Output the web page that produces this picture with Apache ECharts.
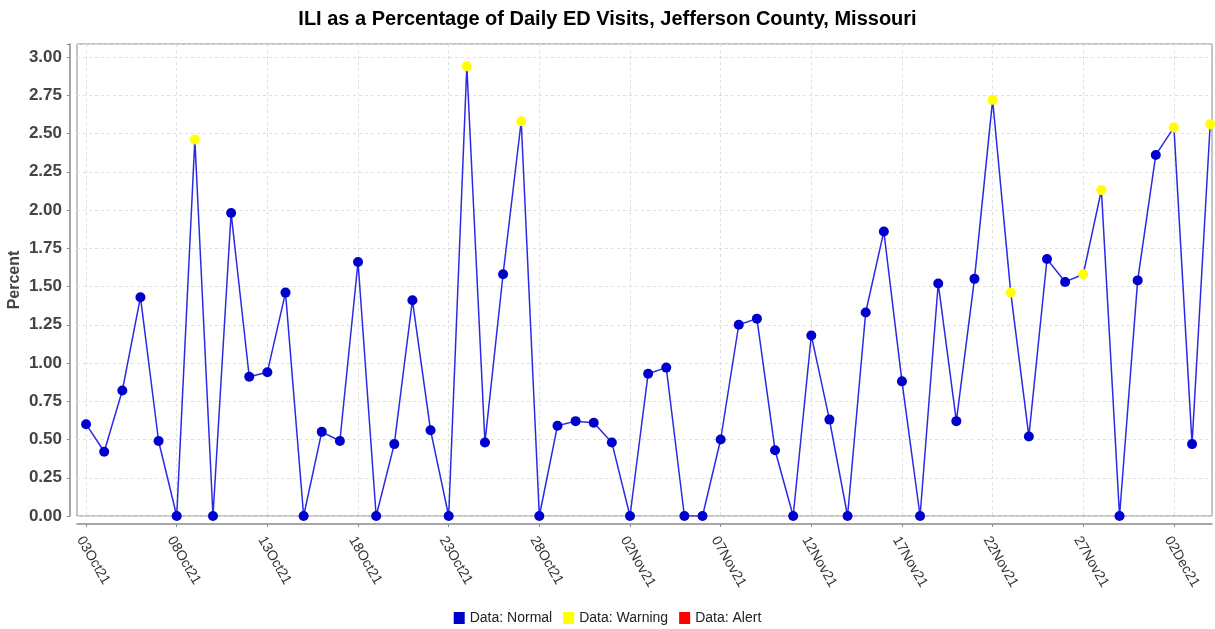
<!DOCTYPE html>
<html>
<head>
<meta charset="utf-8">
<title>ILI as a Percentage of Daily ED Visits</title>
<script src="https://cdn.jsdelivr.net/npm/echarts@6/dist/echarts.min.js"></script>
<style>
  html, body { margin: 0; padding: 0; background: #fff; }
  #chart { width: 1215px; height: 629px; }
</style>
</head>
<body>
<div id="chart"></div>
<script>
// one value per day, 03Oct21 .. 04Dec21
const dates = [
  '03Oct21', '04Oct21', '05Oct21', '06Oct21', '07Oct21', '08Oct21', '09Oct21',
  '10Oct21', '11Oct21', '12Oct21', '13Oct21', '14Oct21', '15Oct21', '16Oct21',
  '17Oct21', '18Oct21', '19Oct21', '20Oct21', '21Oct21', '22Oct21', '23Oct21',
  '24Oct21', '25Oct21', '26Oct21', '27Oct21', '28Oct21', '29Oct21', '30Oct21',
  '31Oct21', '01Nov21', '02Nov21', '03Nov21', '04Nov21', '05Nov21', '06Nov21',
  '07Nov21', '08Nov21', '09Nov21', '10Nov21', '11Nov21', '12Nov21', '13Nov21',
  '14Nov21', '15Nov21', '16Nov21', '17Nov21', '18Nov21', '19Nov21', '20Nov21',
  '21Nov21', '22Nov21', '23Nov21', '24Nov21', '25Nov21', '26Nov21', '27Nov21',
  '28Nov21', '29Nov21', '30Nov21', '01Dec21', '02Dec21', '03Dec21', '04Dec21'
]
const percent = [
  0.60, 0.42, 0.82, 1.43, 0.49, 0.00, 2.46,
  0.00, 1.98, 0.91, 0.94, 1.46, 0.00, 0.55,
  0.49, 1.66, 0.00, 0.47, 1.41, 0.56, 0.00,
  2.94, 0.48, 1.58, 2.58, 0.00, 0.59, 0.62,
  0.61, 0.48, 0.00, 0.93, 0.97, 0.00, 0.00,
  0.50, 1.25, 1.29, 0.43, 0.00, 1.18, 0.63,
  0.00, 1.33, 1.86, 0.88, 0.00, 1.52, 0.62,
  1.55, 2.72, 1.46, 0.52, 1.68, 1.53, 1.58,
  2.13, 0.00, 1.54, 2.36, 2.54, 0.47, 2.56
]
// N = normal, W = warning, A = alert
const status = [
  'N', 'N', 'N', 'N', 'N', 'N', 'W',
  'N', 'N', 'N', 'N', 'N', 'N', 'N',
  'N', 'N', 'N', 'N', 'N', 'N', 'N',
  'W', 'N', 'N', 'W', 'N', 'N', 'N',
  'N', 'N', 'N', 'N', 'N', 'N', 'N',
  'N', 'N', 'N', 'N', 'N', 'N', 'N',
  'N', 'N', 'N', 'N', 'N', 'N', 'N',
  'N', 'W', 'W', 'N', 'N', 'N', 'W',
  'W', 'N', 'N', 'N', 'W', 'N', 'W'
]
// x tick every 5 days
const xTicks = [0, 5, 10, 15, 20, 25, 30, 35, 40, 45, 50, 55, 60]

const lineData = percent.map((v, i) => [i, v])
function pointsFor(code) {
  const out = []
  percent.forEach((v, i) => {
    if (status[i] === code) out.push([i, v])
  })
  return out
}

const font = 'Liberation Sans, Arial, sans-serif'
const gray = '#8a8a8a'
const gridLine = { show: true, lineStyle: { color: '#e0e0e0', type: [3, 3] } }

const chart = echarts.init(document.getElementById('chart'), null, { renderer: 'canvas' })
chart.setOption({
  animation: false,
  backgroundColor: '#fff',
  title: {
    text: 'ILI as a Percentage of Daily ED Visits, Jefferson County, Missouri',
    left: 'center',
    top: 4,
    textStyle: { fontFamily: font, fontSize: 20, fontWeight: 'bold', color: '#000' }
  },
  legend: {
    top: 606,
    left: 'center',
    data: ['Data: Normal', 'Data: Warning', 'Data: Alert'],
    icon: 'rect',
    itemWidth: 11,
    itemHeight: 12,
    itemGap: 11,
    textStyle: { fontFamily: font, fontSize: 14, color: '#222' }
  },
  grid: {
    left: 77,
    right: 3,
    top: 44,
    bottom: 113,
    outerBoundsMode: 'none',
    show: true,
    borderColor: gray,
    borderWidth: 1
  },
  xAxis: {
    type: 'value',
    min: -0.5,
    max: 62.1,
    offset: 8,
    axisLine: { show: true, onZero: false, lineStyle: { color: gray, width: 1.5 } },
    axisTick: { show: true, length: 3, customValues: xTicks, lineStyle: { color: gray } },
    axisLabel: {
      customValues: xTicks,
      rotate: -60,
      verticalAlign: 'top',
      margin: 10,
      fontFamily: font,
      fontSize: 14,
      color: '#333',
      formatter: v => dates[Math.round(v)] || ''
    },
    splitLine: gridLine
  },
  yAxis: {
    type: 'value',
    min: 0,
    max: 3.085,
    interval: 0.25,
    offset: 7,
    name: 'Percent',
    nameLocation: 'middle',
    nameGap: 47,
    nameMoveOverlap: false,
    nameTextStyle: { fontFamily: font, fontSize: 16, fontWeight: 'bold', color: '#444' },
    axisLine: { show: true, onZero: false, lineStyle: { color: gray, width: 1.5 } },
    axisTick: { show: true, length: 3, lineStyle: { color: gray } },
    axisLabel: {
      fontFamily: font,
      fontSize: 17,
      fontWeight: 'bold',
      color: '#444',
      margin: 8,
      formatter: v => (v > 3.01 ? '' : v.toFixed(2))
    },
    splitLine: gridLine
  },
  series: [
    {
      name: 'line',
      type: 'line',
      data: lineData,
      showSymbol: false,
      lineStyle: { color: '#2a2ae6', width: 1.5 },
      z: 2
    },
    {
      name: 'Data: Normal',
      type: 'scatter',
      data: pointsFor('N'),
      symbolSize: 10,
      itemStyle: { color: '#0000cc', opacity: 1 },
      z: 3
    },
    {
      name: 'Data: Warning',
      type: 'scatter',
      data: pointsFor('W'),
      symbolSize: 10,
      itemStyle: { color: '#ffff00', opacity: 1 },
      z: 3
    },
    {
      name: 'Data: Alert',
      type: 'scatter',
      data: pointsFor('A'),
      symbolSize: 10,
      itemStyle: { color: '#ff0000', opacity: 1 },
      z: 3
    }
  ]
})
</script>
</body>
</html>
